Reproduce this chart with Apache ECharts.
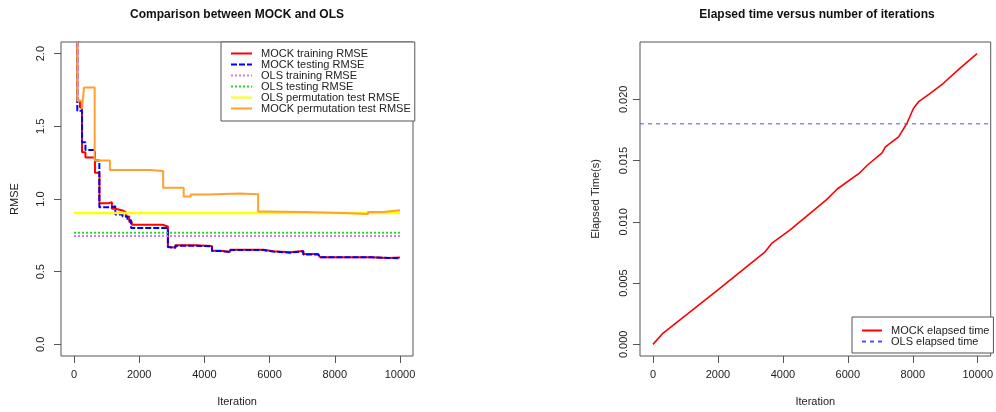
<!DOCTYPE html>
<html lang="en">
<head>
  <meta charset="UTF-8">
  <title>MOCK vs OLS</title>
  <script src="https://cdn.jsdelivr.net/npm/echarts@6/dist/echarts.min.js"></script>
  <style>
    body { margin: 0; background: #fff; }
  </style>
</head>
<body>
  <div id="main" style="width: 996px; height: 412px;"></div>

  <script>
    // tick positions / labels
    const iterTicks = [0, 2000, 4000, 6000, 8000, 10000];
    const rmseTicks = [0, 0.5, 1, 1.5, 2];
    const timeTicks = [0, 0.005, 0.01, 0.015, 0.02];

    // left panel: step series (iteration where value changes, new value)
    const mockTrainIter = [0, 100, 180, 245, 350, 642, 780, 1061, 1162, 1266, 1489, 1590, 1694, 1774, 2713, 2880, 2906, 3110, 3722, 4232, 4486, 4792, 5810, 6116, 6627, 7034, 7492, 7544, 9125, 9633, 10000];
    const mockTrainRmse = [3.0, 1.676, 1.63, 1.321, 1.285, 1.18, 0.971, 0.978, 0.933, 0.921, 0.909, 0.880, 0.841, 0.823, 0.811, 0.669, 0.667, 0.681, 0.676, 0.644, 0.637, 0.651, 0.640, 0.634, 0.642, 0.622, 0.634, 0.600, 0.594, 0.598, 0.598];

    const mockTestIter = [0, 100, 245, 350, 642, 776, 1160, 1266, 1489, 1640, 1750, 2880, 2906, 3110, 3722, 4232, 4486, 4792, 5810, 6116, 6627, 7034, 7492, 7544, 9125, 10000];
    const mockTestRmse = [3.0, 1.607, 1.39, 1.337, 1.265, 0.944, 0.950, 0.894, 0.880, 0.853, 0.800, 0.669, 0.665, 0.679, 0.674, 0.642, 0.635, 0.649, 0.638, 0.631, 0.640, 0.619, 0.631, 0.599, 0.592, 0.592];

    const mockPermIter = [0, 100, 245, 306, 633, 1100, 2324, 2734, 3364, 3580, 4128, 5076, 5650, 5811, 7034, 8257, 9021, 9480, 10000];
    const mockPermRmse = [3.0, 1.676, 1.62, 1.767, 1.265, 1.199, 1.192, 1.077, 1.017, 1.031, 1.038, 1.033, 0.914, 0.910, 0.903, 0.896, 0.910, 0.923, 0.923];

    const olsSpan = [0, 10000];
    const olsTrainRmse = 0.745;
    const olsTestRmse = 0.768;
    const olsPermRmse = 0.903;

    // right panel
    const elapsedIter = [0, 304, 2000, 3452, 3654, 4214, 5329, 5685, 6345, 6599, 7055, 7157, 7564, 7817, 8020, 8173, 8526, 8934, 9440, 9979];
    const elapsedTime = [0, 0.00090, 0.00444, 0.00755, 0.00824, 0.00932, 0.01177, 0.01270, 0.01395, 0.01462, 0.01563, 0.01612, 0.01693, 0.01803, 0.01925, 0.01979, 0.02047, 0.02129, 0.02251, 0.02373];
    const olsElapsed = 0.018;

    // axis extents (R pads the data range by 4% on each side)
    const iterMin = -400, iterMax = 10400;

    const zip = (xs, ys) => xs.map((x, i) => [x, ys[i]]);
    const flat = (xs, v) => xs.map(x => [x, v]);

    const font = 'Liberation Sans, Arial, Helvetica, sans-serif';
    const boxColor = '#555';
    const CLEAR = 'rgba(0,0,0,0)';

    const RED = '#ff0000', BLUE = '#0000ff', VIOLET = '#c77dff', GREEN = '#22dd22',
          YELLOW = '#ffff00', ORANGE = '#ffa030', OLSBLUE = '#5050ff';

    function xAxisOpt(grid) {
      return {
        type: 'value', gridIndex: grid, min: iterMin, max: iterMax,
        name: 'Iteration', nameLocation: 'middle', nameGap: 40,
        nameTextStyle: { fontFamily: font, fontSize: 11, color: '#222' },
        axisLine: { show: false, onZero: false },
        axisTick: { show: true, length: 7, customValues: iterTicks, lineStyle: { color: boxColor } },
        axisLabel: { customValues: iterTicks, margin: 13, formatter: v => String(v),
          fontFamily: font, fontSize: 11, color: '#222' },
        splitLine: { show: false }
      };
    }

    function yAxisOpt(grid, min, max, ticks, digits, name, margin, gap) {
      return {
        type: 'value', gridIndex: grid, min: min, max: max,
        name: name, nameLocation: 'middle', nameGap: gap,
        nameTextStyle: { fontFamily: font, fontSize: 11, color: '#222' },
        axisLine: { show: false, onZero: false },
        axisTick: { show: true, length: 7, customValues: ticks, lineStyle: { color: boxColor } },
        axisLabel: {
          customValues: ticks, rotate: 90, margin: margin,
          formatter: v => Number(v).toFixed(digits),
          fontFamily: font, fontSize: 11, color: '#222'
        },
        splitLine: { show: false }
      };
    }

    function stepLine(name, data, color, width, type) {
      return {
        name: name, type: 'line', xAxisIndex: 0, yAxisIndex: 0,
        data: data, step: 'end', showSymbol: false, symbol: 'none',
        lineStyle: { color: color, width: width, type: type },
        itemStyle: { color: color },
        silent: true
      };
    }

    const legendBase = {
      orient: 'vertical', itemGap: 0, itemHeight: 13,
      borderColor: boxColor, borderWidth: 1, backgroundColor: '#fff',
      itemStyle: { color: CLEAR, borderColor: CLEAR, borderWidth: 0 },
      textStyle: { fontFamily: font, fontSize: 11, color: '#222', padding: [0, 0, 0, 4] },
      selectedMode: false
    };

    const chart = echarts.init(document.getElementById('main'));

    chart.setOption({
      animation: false,
      title: [
        { text: 'Comparison between MOCK and OLS', left: 237, top: 9, textAlign: 'center', padding: 0,
          textStyle: { fontFamily: font, fontSize: 12, fontWeight: 'bold', color: '#111' } },
        { text: 'Elapsed time versus number of iterations', left: 817, top: 9, textAlign: 'center', padding: 0,
          textStyle: { fontFamily: font, fontSize: 12, fontWeight: 'bold', color: '#111' } }
      ],
      grid: [
        { left: 61, right: 583, top: 42, bottom: 56, show: true, borderColor: boxColor, borderWidth: 1 },
        { left: 640, right: 1, top: 42, bottom: 56, show: true, borderColor: boxColor, borderWidth: 1 }
      ],
      xAxis: [xAxisOpt(0), xAxisOpt(1)],
      yAxis: [
        yAxisOpt(0, -0.08, 2.08, rmseTicks, 1, 'RMSE', 15, 41),
        yAxisOpt(1, -0.00095, 0.02468, timeTicks, 3, 'Elapsed Time(s)', 11, 39)
      ],
      legend: [
        Object.assign({}, legendBase, {
          left: 221, top: 42, padding: [6, 4, 7, 9], itemWidth: 21,
          data: ['MOCK training RMSE', 'MOCK testing RMSE', 'OLS training RMSE',
                 'OLS testing RMSE', 'OLS permutation test RMSE', 'MOCK permutation test RMSE']
        }),
        Object.assign({}, legendBase, {
          left: 852, top: 317, padding: [8, 4, 6, 9], itemWidth: 20,
          data: ['MOCK elapsed time', 'OLS elapsed time']
        })
      ],
      series: [
        stepLine('MOCK training RMSE', zip(mockTrainIter, mockTrainRmse), RED, 2, 'solid'),
        stepLine('MOCK testing RMSE', zip(mockTestIter, mockTestRmse), BLUE, 2, [6, 2]),
        stepLine('OLS training RMSE', flat(olsSpan, olsTrainRmse), VIOLET, 2, [2, 2]),
        stepLine('OLS testing RMSE', flat(olsSpan, olsTestRmse), GREEN, 2, [2, 2]),
        stepLine('OLS permutation test RMSE', flat(olsSpan, olsPermRmse), YELLOW, 2.5, 'solid'),
        stepLine('MOCK permutation test RMSE', zip(mockPermIter, mockPermRmse), ORANGE, 2, 'solid'),
        {
          name: 'MOCK elapsed time', type: 'line', xAxisIndex: 1, yAxisIndex: 1,
          data: zip(elapsedIter, elapsedTime), showSymbol: false, symbol: 'none',
          lineStyle: { color: RED, width: 1.6 }, itemStyle: { color: RED },
          silent: true
        },
        {
          name: 'OLS elapsed time', type: 'line', xAxisIndex: 1, yAxisIndex: 1,
          data: flat([iterMin, iterMax], olsElapsed), showSymbol: false, symbol: 'none',
          lineStyle: { color: OLSBLUE, width: 1, type: [4, 4] }, itemStyle: { color: OLSBLUE },
          silent: true
        }
      ]
    });
  </script>
</body>
</html>
